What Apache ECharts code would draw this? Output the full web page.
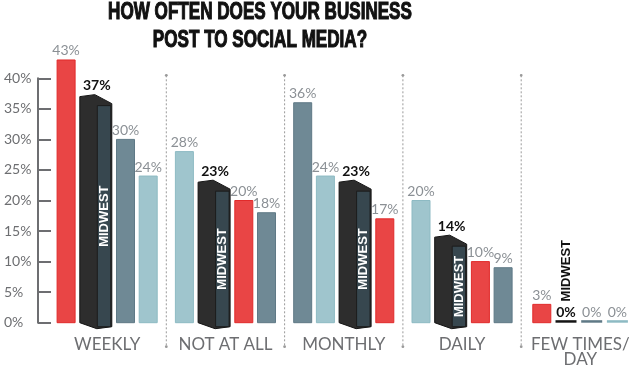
<!DOCTYPE html>
<html>
<head>
<meta charset="utf-8">
<script src="https://cdn.jsdelivr.net/npm/echarts@6/dist/echarts.min.js"></script>
<style>
html,body{margin:0;padding:0;background:#fff;}
#chart{width:629px;height:369px;}
</style>
</head>
<body>
<div id="chart"></div>
<script>
// ---- data ----
const titleLines = ['HOW OFTEN DOES YOUR BUSINESS', 'POST TO SOCIAL MEDIA?'];
const categories = ['WEEKLY', 'NOT AT ALL', 'MONTHLY', 'DAILY', 'FEW TIMES/\nDAY'];
const redValues = [43, 20, 17, 10, 3];
const midwestValues = [37, 23, 23, 14, 0];
const slateValues = [30, 18, 36, 9, 0];
const tealValues = [24, 28, 24, 20, 0];
const yMin = 0, yMax = 40, yStep = 5;
const midwestName = 'MIDWEST';

// ---- styles ----
const regions = [
  { name: 'Red region', values: redValues, fill: '#e94545', stroke: '#e12a2a', zeroColor: '#e12a2a', is3d: false },
  { name: 'Midwest', values: midwestValues, fill: '#2d2d2d', stroke: '#141414', zeroColor: '#141414', is3d: true },
  { name: 'Slate region', values: slateValues, fill: '#6f8995', stroke: '#5f7986', zeroColor: '#5f7986', is3d: false },
  { name: 'Teal region', values: tealValues, fill: '#9fc5cd', stroke: '#8dbac3', zeroColor: '#8dbac3', is3d: false }
];
const LABEL_FONT = 'Lato, "Open Sans", sans-serif';
const GRAY = '#6d6e71';
const BAND = 118.3;

function slotWidth(ri, v, u) {
  if (v === 0) return 21 * u;
  if (regions[ri].is3d) return 32 * u;
  return 18 * u;
}

function makeRender(r) {
  return function (params, api) {
    const ci = api.value(0);
    const val = api.value(1);
    const band = api.size([1, 0])[0];
    const u = band / BAND;
    const basePt = api.coord([ci, 0]);
    const center = basePt[0];
    const base = basePt[1];
    const top = api.coord([ci, val])[1];
    const vals = regions.map(g => g.values[ci]);
    const order = regions.map((g, i) => i).sort((a, b) => (vals[b] - vals[a]) || (a - b));
    const gap = 4.7 * u;
    let total = gap * (order.length - 1);
    order.forEach(i => { total += slotWidth(i, vals[i], u); });
    let x = center - total / 2;
    for (const i of order) {
      if (i === r) break;
      x += slotWidth(i, vals[i], u) + gap;
    }
    const w = slotWidth(r, val, u);
    const reg = regions[r];
    const children = [];
    const labelText = val + '%';
    if (val === 0) {
      children.push({ type: 'rect', shape: { x: x, y: base - 2.5, width: w, height: 2.5 }, style: { fill: reg.zeroColor } });
      children.push({
        type: 'text', x: x + w / 2, y: base - 3,
        style: { text: labelText, font: (reg.is3d ? 'bold 14px ' : '14px ') + LABEL_FONT, fill: reg.is3d ? '#111' : '#8b9095', align: 'center', verticalAlign: 'bottom' }
      });
      if (reg.is3d) {
        children.push({
          type: 'text', x: x + w / 2, y: base - 52, rotation: Math.PI / 2,
          style: { text: midwestName, font: 'bold 13px "Liberation Sans", Arial, sans-serif', fill: '#111', align: 'center', verticalAlign: 'middle' }
        });
      }
    } else if (reg.is3d) {
      const L = x;
      children.push({
        type: 'polygon',
        shape: { points: [[L, top], [L + 15 * u, top - 2 * u], [L + w, top + 7 * u], [L + w, base + 4 * u], [L + 17 * u, base + 6 * u], [L, base]] },
        style: { fill: reg.fill, stroke: reg.stroke, lineWidth: 1 }
      });
      const sx = L + 17.5 * u, sw = w - 18.5 * u, sy = top + 9 * u, sh = base + 4 * u - sy;
      children.push({ type: 'rect', shape: { x: sx, y: sy, width: sw, height: sh }, style: { fill: '#37474f', stroke: '#1c1c1c', lineWidth: 1 } });
      children.push({
        type: 'text', x: sx + sw / 2, y: sy + sh / 2, rotation: Math.PI / 2,
        style: { text: midwestName, font: 'bold 13px "Liberation Sans", Arial, sans-serif', fill: '#ffffff', align: 'center', verticalAlign: 'middle' }
      });
      children.push({
        type: 'text', x: L + 17 * u, y: top - 4,
        style: { text: labelText, font: 'bold 14px ' + LABEL_FONT, fill: '#111', align: 'center', verticalAlign: 'bottom' }
      });
    } else {
      children.push({ type: 'rect', shape: { x: x, y: top, width: w, height: base - top }, style: { fill: reg.fill, stroke: reg.stroke, lineWidth: 1 } });
      children.push({
        type: 'text', x: x + w / 2, y: top - 2,
        style: { text: labelText, font: '14px ' + LABEL_FONT, fill: '#8b9095', align: 'center', verticalAlign: 'bottom' }
      });
    }
    return { type: 'group', children: children };
  };
}

function renderSeparator(params, api) {
  const ci = api.value(0);
  const band = api.size([1, 0])[0];
  const p = api.coord([ci, 0]);
  const xb = p[0] - band / 2;
  const yTop = api.coord([ci, yMax])[1] - 3;
  const yBot = p[1] + 24;
  return {
    type: 'group', children: [
      { type: 'line', shape: { x1: xb, y1: yTop, x2: xb, y2: yBot }, style: { stroke: '#9a9a9a', lineWidth: 1, lineDash: [2, 2] } },
      { type: 'circle', shape: { cx: xb, cy: yTop, r: 1.4 }, style: { fill: '#9a9a9a' } },
      { type: 'circle', shape: { cx: xb, cy: yBot, r: 1.4 }, style: { fill: '#9a9a9a' } }
    ]
  };
}

const series = regions.map((reg, r) => ({
  type: 'custom',
  name: reg.name,
  clip: false,
  renderItem: makeRender(r),
  encode: { x: 0, y: 1 },
  data: categories.map((c, i) => [i, reg.values[i]]),
  z: 3
}));
series.unshift({
  type: 'custom',
  name: 'separators',
  clip: false,
  silent: true,
  renderItem: renderSeparator,
  encode: { x: 0, y: 1 },
  data: categories.slice(1).map((c, i) => [i + 1, 0]),
  z: 1
});

const gridLeft = 48;
const chart = echarts.init(document.getElementById('chart'), null, { renderer: 'canvas' });
chart.setOption({
  animation: false,
  backgroundColor: '#ffffff',
  graphic: [{
    type: 'text',
    x: 260,
    y: -1,
    scaleX: 0.743,
    style: {
      text: titleLines.join('\n'),
      font: 'bold 23px "Liberation Sans", Arial, sans-serif',
      fill: '#111111',
      stroke: '#111111',
      lineWidth: 1.1,
      align: 'center',
      verticalAlign: 'top',
      lineHeight: 28
    }
  }],
  grid: {
    left: gridLeft,
    right: 629 - gridLeft - BAND * categories.length,
    top: 78.3,
    bottom: 46.3,
    containLabel: false,
    outerBoundsMode: 'none'
  },
  xAxis: {
    type: 'category',
    data: categories,
    boundaryGap: true,
    axisLine: { show: false },
    axisTick: { show: false },
    splitLine: { show: false },
    axisLabel: {
      interval: 0,
      color: GRAY,
      fontFamily: LABEL_FONT,
      fontSize: 17,
      lineHeight: 15,
      verticalAlign: 'top',
      margin: 14,
      hideOverlap: false
    }
  },
  yAxis: {
    type: 'value',
    min: yMin,
    max: yMax,
    interval: yStep,
    offset: 10,
    axisLine: { show: true, lineStyle: { color: GRAY, width: 2 } },
    axisTick: { show: true, inside: true, length: 13, lineStyle: { color: GRAY, width: 2 } },
    splitLine: { show: false },
    axisLabel: {
      formatter: '{value}%',
      color: GRAY,
      fontFamily: LABEL_FONT,
      fontSize: 14,
      align: 'left',
      margin: 34
    }
  },
  series: series
});
</script>
</body>
</html>
